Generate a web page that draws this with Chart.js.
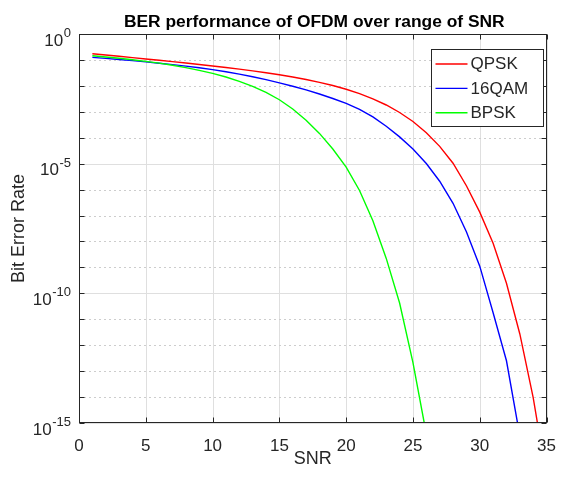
<!DOCTYPE html>
<html>
<head>
<meta charset="utf-8">
<script src="https://cdn.jsdelivr.net/npm/chart.js@4/dist/chart.umd.min.js"></script>
<style>
html, body { margin: 0; padding: 0; background: #ffffff; }
canvas { display: block; }
</style>
</head>
<body>
<canvas id="chart" width="561" height="477" style="width:561px;height:477px"></canvas>
<script>
// ---- data ----
const snrDb = [1, 2, 3, 4, 5, 6, 7, 8, 9, 10, 11, 12, 13, 14, 15, 16, 17, 18, 19, 20,
               21, 22, 23, 24, 25, 26, 27, 28, 29, 30, 31, 32, 33, 34, 35];
const berQPSK = [1.74e-1, 1.55e-1, 1.38e-1, 1.23e-1, 1.09e-1, 9.70e-2, 8.61e-2, 7.60e-2, 6.68e-2, 5.85e-2,
                 5.09e-2, 4.41e-2, 3.78e-2, 3.20e-2, 2.67e-2, 2.19e-2, 1.76e-2, 1.37e-2, 1.03e-2, 7.40e-3,
                 5.02e-3, 3.17e-3, 1.83e-3, 9.42e-4, 4.21e-4, 1.57e-4, 4.65e-5, 1.04e-5, 1.41e-6, 1.35e-7,
                 8.51e-9, 2.44e-10, 2.71e-12, 9.57e-15, 8.15e-18];
const ber16QAM = [1.26e-1, 1.15e-1, 1.04e-1, 9.40e-2, 8.41e-2, 7.48e-2, 6.59e-2, 5.75e-2, 4.97e-2, 4.23e-2,
                  3.50e-2, 2.84e-2, 2.25e-2, 1.74e-2, 1.31e-2, 9.68e-3, 6.97e-3, 4.85e-3, 3.26e-3, 2.10e-3,
                  1.24e-3, 6.35e-4, 2.77e-4, 1.08e-4, 3.66e-5, 1.01e-5, 2.10e-6, 2.97e-7, 2.36e-8, 1.12e-9,
                  1.78e-11, 2.51e-13, 3.16e-16, 1.00e-19];
const berBPSK = [1.45e-1, 1.30e-1, 1.16e-1, 1.02e-1, 8.83e-2, 7.50e-2, 6.24e-2, 5.06e-2, 3.98e-2, 3.03e-2,
                 2.19e-2, 1.50e-2, 9.57e-3, 5.57e-3, 2.92e-3, 1.28e-3, 4.74e-4, 1.47e-4, 3.68e-5, 7.35e-6,
                 9.25e-7, 6.25e-8, 2.22e-9, 4.23e-11, 2.12e-13, 3.77e-16, 2.38e-19];
const seriesLabels = ['QPSK', '16QAM', 'BPSK'];
const xTickValues = [0, 5, 10, 15, 20, 25, 30, 35];
const yTickValues = [1e0, 1e-1, 1e-2, 1e-3, 1e-4, 1e-5, 1e-6, 1e-7, 1e-8, 1e-9, 1e-10,
                     1e-11, 1e-12, 1e-13, 1e-14, 1e-15];
const yLabelValues = [1e0, 1e-5, 1e-10, 1e-15];
const yLabelExponents = ['0', '-5', '-10', '-15'];
const titleText = 'BER performance of OFDM over range of SNR';
const xTitleText = 'SNR';
const yTitleText = 'Bit Error Rate';

// ---- styling ----
const FONT = "'Liberation Sans', Arial, Helvetica, sans-serif";
const AXIS_COLOR = '#262626';
Chart.defaults.font.family = FONT;

function toPoints(values) {
  return values.map((v, i) => ({ x: snrDb[i], y: v }));
}
function isMajorDecade(v) {
  return yLabelValues.some(m => Math.abs(Math.log10(v) - Math.log10(m)) < 1e-6);
}

const gridLines = {
  id: 'gridLines',
  beforeDatasetsDraw(chart) {
    const { ctx, chartArea, scales } = chart;
    const l = chartArea.left, r = chartArea.right, t = chartArea.top, b = chartArea.bottom;
    ctx.save();
    ctx.lineWidth = 1;
    ctx.strokeStyle = '#dfdfdf';
    ctx.setLineDash([]);
    ctx.beginPath();
    xTickValues.forEach(v => {
      const px = Math.round(scales.x.getPixelForValue(v)) + 0.5;
      ctx.moveTo(px, t); ctx.lineTo(px, b);
    });
    ctx.stroke();
    ctx.strokeStyle = '#cdcdcd';
    ctx.setLineDash([2, 3]);
    ctx.beginPath();
    yTickValues.filter(v => !isMajorDecade(v)).forEach(v => {
      const py = Math.round(scales.y.getPixelForValue(v)) + 0.5;
      ctx.moveTo(l, py); ctx.lineTo(r, py);
    });
    ctx.stroke();
    ctx.strokeStyle = '#dfdfdf';
    ctx.setLineDash([]);
    ctx.beginPath();
    yLabelValues.forEach(v => {
      const py = Math.round(scales.y.getPixelForValue(v)) + 0.5;
      ctx.moveTo(l, py); ctx.lineTo(r, py);
    });
    ctx.stroke();
    ctx.restore();
  }
};

const boxAndTicks = {
  id: 'boxAndTicks',
  afterDatasetsDraw(chart) {
    const { ctx, chartArea, scales } = chart;
    const l = Math.round(chartArea.left) + 0.5;
    const r = Math.round(chartArea.right) - 0.5;
    const t = Math.round(chartArea.top) + 0.5;
    const b = Math.round(chartArea.bottom) - 0.5;
    ctx.save();
    ctx.setLineDash([]);

    // title
    ctx.fillStyle = '#000000';
    ctx.font = 'bold 17.4px ' + FONT;
    ctx.textAlign = 'center';
    ctx.textBaseline = 'alphabetic';
    ctx.fillText(titleText, (chartArea.left + chartArea.right) / 2 + 1.5, chartArea.top - 7.3);

    ctx.strokeStyle = AXIS_COLOR;
    ctx.lineWidth = 1;
    ctx.beginPath();
    xTickValues.forEach(v => {
      const px = Math.round(scales.x.getPixelForValue(v)) + 0.5;
      ctx.moveTo(px, b); ctx.lineTo(px, b - 5);
      ctx.moveTo(px, t); ctx.lineTo(px, t + 5);
    });
    yTickValues.forEach(v => {
      const py = Math.round(scales.y.getPixelForValue(v)) + 0.5;
      ctx.moveTo(l, py); ctx.lineTo(l + 5, py);
      ctx.moveTo(r, py); ctx.lineTo(r - 5, py);
    });
    ctx.stroke();
    ctx.strokeRect(l, t, r - l, b - t);

    // y tick labels with superscript exponents
    ctx.fillStyle = AXIS_COLOR;
    ctx.textBaseline = 'alphabetic';
    ctx.textAlign = 'left';
    yLabelValues.forEach((v, i) => {
      const py = scales.y.getPixelForValue(v);
      const exp = yLabelExponents[i];
      ctx.font = '13px ' + FONT;
      const supW = ctx.measureText(exp).width;
      ctx.font = '17px ' + FONT;
      const baseW = ctx.measureText('10').width;
      const xRight = chartArea.left - 8;
      const supX = xRight - supW;
      const baseX = supX - baseW - 0.5;
      ctx.fillText('10', baseX, py + 11.5);
      ctx.font = '13px ' + FONT;
      ctx.fillText(exp, supX, py + 3);
    });

    // legend box
    const lw = 112, lh = 77;
    const lx = Math.round(chartArea.right - 4 - lw) + 0.5;
    const ly = Math.round(chartArea.top + 15) + 0.5;
    ctx.fillStyle = '#ffffff';
    ctx.fillRect(lx, ly, lw, lh);
    ctx.strokeStyle = AXIS_COLOR;
    ctx.lineWidth = 1;
    ctx.strokeRect(lx, ly, lw, lh);
    ctx.font = '17px ' + FONT;
    ctx.textBaseline = 'middle';
    chart.data.datasets.forEach((ds, i) => {
      const cy = ly + 14.5 + i * 24.4;
      ctx.strokeStyle = ds.borderColor;
      ctx.lineWidth = ds.borderWidth;
      ctx.beginPath();
      ctx.moveTo(lx + 4, cy);
      ctx.lineTo(lx + 36, cy);
      ctx.stroke();
      ctx.fillStyle = AXIS_COLOR;
      ctx.fillText(ds.label, lx + 39, cy + 0.5);
    });
    ctx.restore();
  }
};

new Chart(document.getElementById('chart'), {
  type: 'line',
  data: {
    datasets: [
      { label: seriesLabels[0], data: toPoints(berQPSK), borderColor: '#ff0000', borderWidth: 1.4, order: 3 },
      { label: seriesLabels[1], data: toPoints(ber16QAM), borderColor: '#0000ff', borderWidth: 1.4, order: 2 },
      { label: seriesLabels[2], data: toPoints(berBPSK), borderColor: '#00ff00', borderWidth: 1.4, order: 1 }
    ]
  },
  options: {
    responsive: false,
    animation: false,
    devicePixelRatio: 1,
    layout: { padding: { left: 0, right: 14, top: 34, bottom: 0 } },
    elements: { point: { radius: 0 }, line: { tension: 0, fill: false } },
    plugins: {
      legend: { display: false },
      tooltip: { enabled: false },
      title: { display: false }
    },
    scales: {
      x: {
        type: 'linear',
        min: 0,
        max: 35,
        afterBuildTicks: s => { s.ticks = xTickValues.map(v => ({ value: v })); },
        afterFit: s => { s.height = 54; },
        ticks: { color: AXIS_COLOR, font: { size: 17 }, padding: 5, maxRotation: 0, autoSkip: false },
        grid: { display: false },
        border: { display: false },
        title: { display: true, text: xTitleText, color: AXIS_COLOR, font: { size: 18 }, padding: { top: 0, bottom: 6.7 } }
      },
      y: {
        type: 'logarithmic',
        min: 1e-15,
        max: 1,
        afterBuildTicks: s => { s.ticks = yTickValues.map(v => ({ value: v })); },
        afterFit: s => { s.width = 79; },
        ticks: { display: false },
        grid: { display: false },
        border: { display: false },
        title: { display: true, text: yTitleText, color: AXIS_COLOR, font: { size: 18 }, padding: { top: 8, bottom: 0 } }
      }
    }
  },
  plugins: [gridLines, boxAndTicks]
});
</script>
</body>
</html>
